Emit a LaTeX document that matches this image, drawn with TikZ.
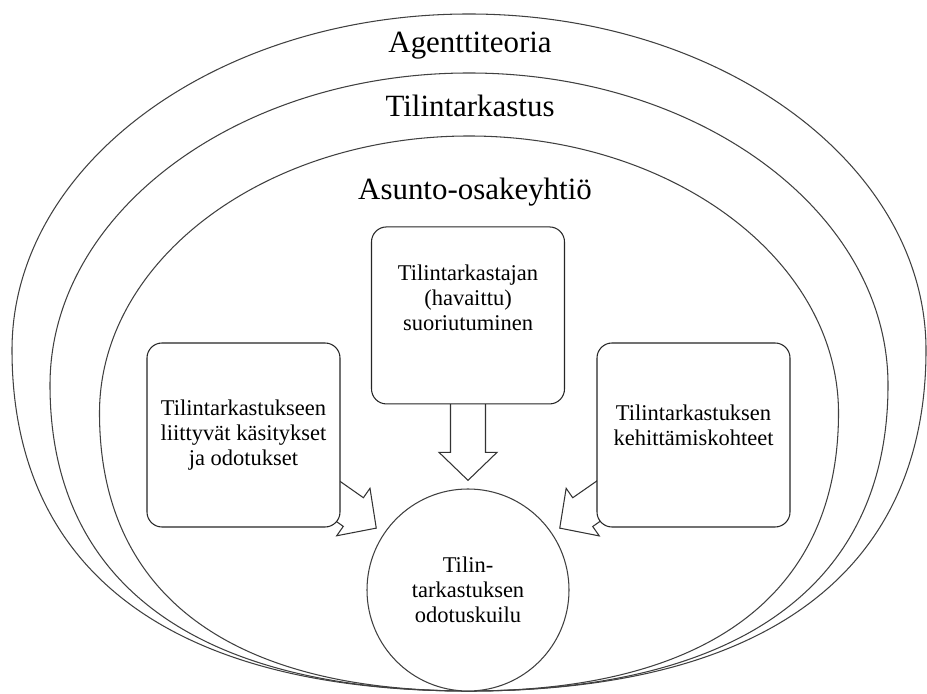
\documentclass[tikz,border=0pt]{standalone}
\usepackage{fontspec}
\setmainfont{Liberation Serif}
\usetikzlibrary{positioning,calc,backgrounds}

% block arrow: #1 tail (hidden in a box), #2 tip
\newcommand{\blockarrow}[2]{%
  \coordinate (ba) at ($(#2)!0.56cm!(#1)$);
  \draw[blockarrow] ($(#1)!0.35cm!90:(#2)$) -- ($(ba)!0.35cm!90:(#2)$)
    -- ($(ba)!0.58cm!90:(#2)$) -- (#2) -- ($(ba)!0.58cm!-90:(#2)$)
    -- ($(ba)!0.35cm!-90:(#2)$) -- ($(#1)!0.35cm!-90:(#2)$) -- cycle;}

% nested ring: #1 half width, #2 height of widest point, #3 top
\newcommand{\ringpath}[3]{%
  \draw[ring] (9.38,0.04)
    .. controls ({9.38-0.65*#1},0.04) and ({9.38-#1},{#2-0.65*(#2-0.04)}) .. ({9.38-#1},#2)
    .. controls ({9.38-#1},{#2+0.552*(#3-#2)}) and ({9.38-0.552*#1},#3) .. (9.38,#3)
    .. controls ({9.38+0.552*#1},#3) and ({9.38+#1},{#2+0.552*(#3-#2)}) .. ({9.38+#1},#2)
    .. controls ({9.38+#1},{#2-0.65*(#2-0.04)}) and ({9.38+0.65*#1},0.04) .. cycle;}

\begin{document}
\begin{tikzpicture}[
    ring/.style={draw=black!75, line width=0.6pt},
    title/.style={font=\fontsize{17.6}{21}\selectfont, anchor=base},
    factor/.style={rectangle, draw=black!85, fill=white, line width=0.6pt, rounded corners=0.3cm, minimum width=3.86cm, minimum height=3.68cm, align=center, font=\fontsize{12.8}{14.2}\selectfont},
    gapnode/.style={circle, draw=black!75, fill=white, line width=0.6pt, minimum size=4.04cm, inner sep=0pt, align=center, font=\fontsize{12.8}{14.2}\selectfont},
    blockarrow/.style={draw=black!80, fill=white, line width=0.6pt, line join=miter}
]
    \useasboundingbox (0,0) rectangle (18.54,13.86);

    % Rings
    \ringpath{9.14}{6.86}{13.58}
    \ringpath{8.38}{6.16}{12.40}
    \ringpath{7.39}{5.60}{11.14}

    % Ring titles
    \node[title] (theory) at (9.40,12.80) {Agenttiteoria};
    \node[title] (audit) at (9.40,11.52) {Tilintarkastus};
    \node[title] (hoa) at (9.50,9.86) {Asunto-osakeyhtiö};

    % Gap and factors (trailing empty line lifts the text)
    \node[gapnode] (gap) at (9.36,2.06) {Tilin-\\tarkastuksen\\odotuskuilu};
    \node[factor, minimum height=3.54cm, above=1.68cm of gap] (perf) {Tilintarkastajan\\(havaittu)\\suoriutuminen\\[0.22cm]\mbox{}};
    \node[factor] (views) at (4.87,5.16) {Tilintarkastukseen\\liittyvät käsitykset\\ja odotukset};
    \node[factor] (devel) at (13.87,5.16) {Tilintarkastuksen\\kehittämiskohteet\\[-0.1cm]\mbox{}};

    % Arrows
    \coordinate (tipL) at ($(gap.center)!1.09!(gap.146)$);
    \coordinate (tipC) at ($(gap.center)!1.08!(gap.90)$);
    \coordinate (tipR) at ($(gap.center)!1.09!(gap.34)$);
    \begin{scope}[on background layer]
        \blockarrow{views.center}{tipL}
        \blockarrow{perf.center}{tipC}
        \blockarrow{devel.center}{tipR}
    \end{scope}
\end{tikzpicture}
\end{document}
